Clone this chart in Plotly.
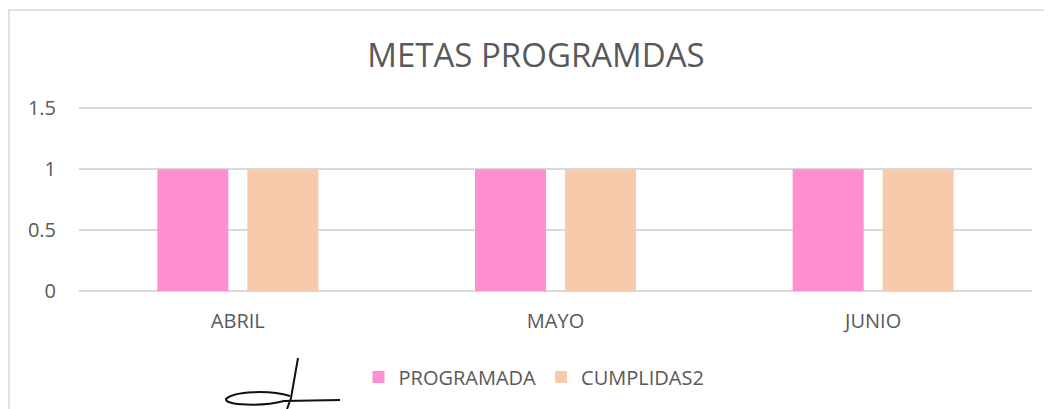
import plotly.graph_objects as go

categories = ["ABRIL", "MAYO", "JUNIO"]
programada = [1, 1, 1]
cumplidas2 = [1, 1, 1]
series_names = ["PROGRAMADA", "CUMPLIDAS2"]
y_ticks = [0, 0.5, 1, 1.5]
y_tick_labels = ["0", "0.5", "1", "1.5"]
y_max = 1.52

# page has 8px body margin; work in figure coordinates = screen - 8
OFF = 8
W, H = 1052, 409
unit = (291 - 108) / 1.5          # pixels per y unit in reference
zero_px = 291 - OFF
L = 79 - OFF
R = 1052 - (1032 - OFF)
B = H - zero_px
T = round(zero_px - y_max * unit)
pw, ph = W - L - R, H - T - B

def px(x):
    return (x - OFF - L) / pw

def py(y):
    return (H - B - (y - OFF)) / ph

font_family = "Open Sans, Lato, sans-serif"
grey = "#595959"

fig = go.Figure()
fig.add_trace(go.Bar(x=categories, y=programada, name=series_names[0],
                     marker=dict(color="#FF8FD0", line=dict(width=0))))
fig.add_trace(go.Bar(x=categories, y=cumplidas2, name=series_names[1],
                     marker=dict(color="#F7CAAC", line=dict(width=0))))

shapes = [
    dict(type="rect", xref="paper", yref="paper",
         x0=px(9), x1=px(1090), y0=py(440), y1=py(10),
         line=dict(color="#D9D9D9", width=1.5), fillcolor="rgba(0,0,0,0)", layer="below"),
    # signature scribble (decoration)
    dict(type="path", xref="paper", yref="paper",
         path=(f"M {px(298)} {py(358)} L {px(291)} {py(398)} L {px(287)} {py(409)} "
               f"M {px(290)} {py(396)} C {px(270)} {py(390)}, {px(234)} {py(391)}, {px(226)} {py(399)} "
               f"C {px(224)} {py(405)}, {px(262)} {py(407)}, {px(284)} {py(401)} "
               f"L {px(340)} {py(400)}"),
         line=dict(color="#111111", width=2)),
]

fig.update_layout(
    width=W, height=H,
    margin=dict(l=L, r=R, t=T, b=B),
    paper_bgcolor="white", plot_bgcolor="white",
    title=dict(text="METAS PROGRAMDAS", x=px(536), xref="paper", xanchor="center",
               y=1 - (55 - OFF) / H, yanchor="middle",
               font=dict(family=font_family, size=33, color=grey)),
    barmode="group", bargap=0.4334, bargroupgap=0.2111,
    xaxis=dict(showgrid=False, showline=False, ticks="", ticklabelstandoff=16,
               tickfont=dict(family=font_family, size=20, color=grey)),
    yaxis=dict(range=[0, y_max], tickvals=y_ticks, ticktext=y_tick_labels,
               showgrid=True, gridcolor="#D9D9D9", gridwidth=1.5,
               zeroline=True, zerolinecolor="#D9D9D9", zerolinewidth=1.5,
               showline=False, ticks="", ticklen=0, ticklabelstandoff=22,
               tickfont=dict(family=font_family, size=20, color=grey)),
    legend=dict(orientation="h", x=px(534), xanchor="center", y=py(377), yanchor="middle",
                font=dict(family=font_family, size=20, color=grey),
                itemsizing="constant", traceorder="normal"),
    shapes=shapes,
    showlegend=True,
)

fig.write_html("out.html")
